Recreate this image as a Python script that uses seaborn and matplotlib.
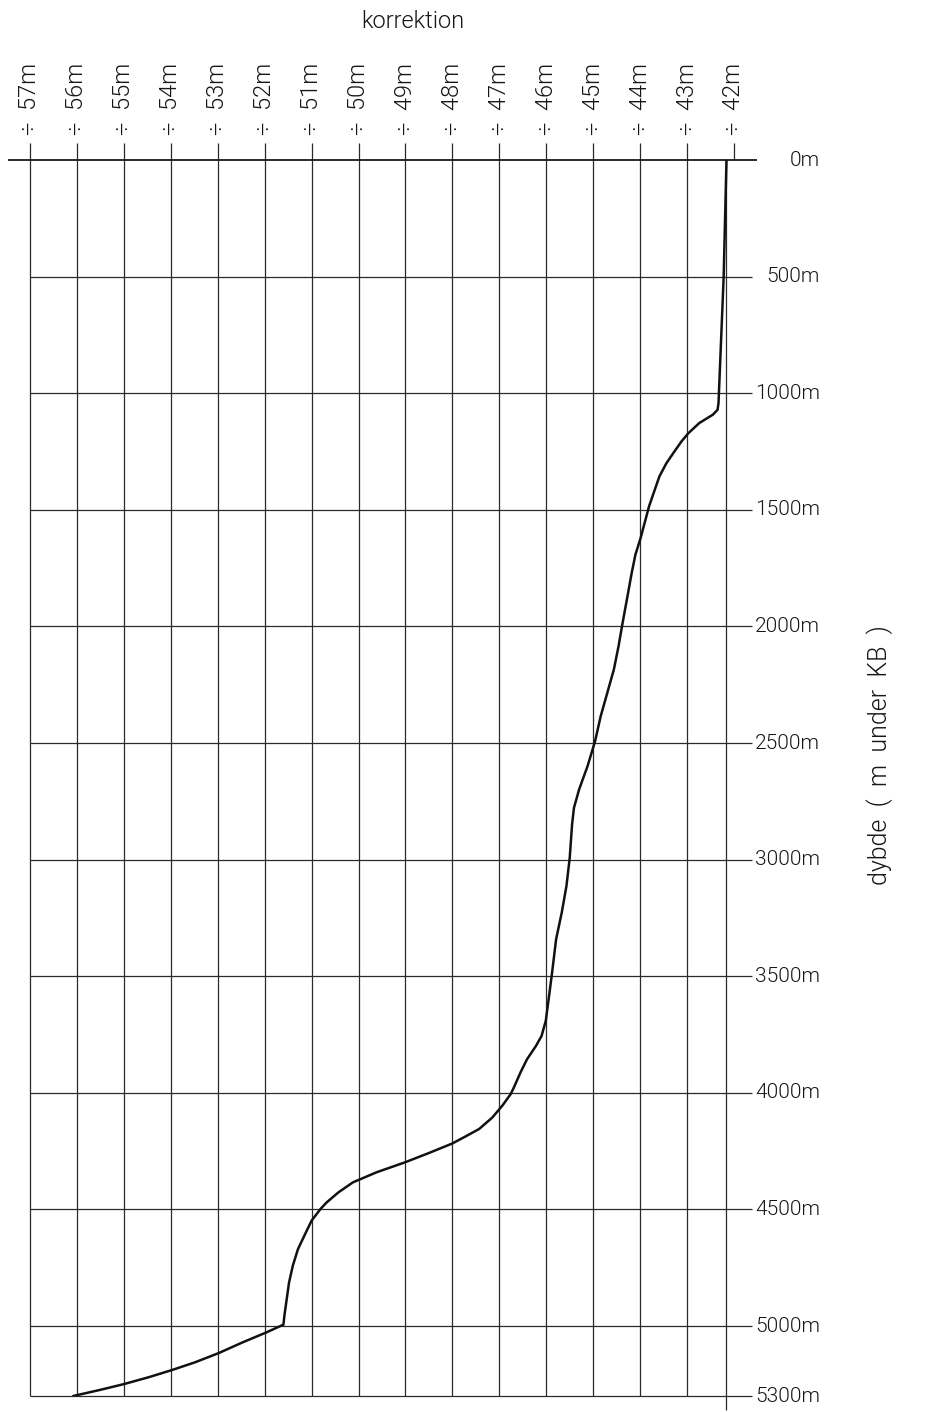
import numpy as np
import pandas as pd
import matplotlib
matplotlib.use("Agg")
import matplotlib.pyplot as plt
import seaborn as sns

# depth below KB (m) and correction (m)
depth = [0, 500, 993, 1042, 1071, 1092, 1128, 1171, 1207, 1250,
         1300, 1357, 1485, 1621, 1692, 1771, 1871, 1992, 2085, 2185,
         2285, 2385, 2492, 2599, 2699, 2778, 2849, 2992, 3113, 3227,
         3341, 3491, 3584, 3691, 3756, 3799, 3856, 3913, 3977, 4006,
         4056, 4106, 4155, 4187, 4217, 4258, 4298, 4341, 4384, 4427,
         4470, 4498, 4548, 4598, 4670, 4741, 4813, 4884, 4956, 4994,
         5027, 5070, 5116, 5156, 5189, 5220, 5249, 5273, 5300]
korr = [-42.16, -42.22, -42.32, -42.33, -42.35, -42.45, -42.74, -42.97, -43.12, -43.27,
        -43.44, -43.59, -43.81, -43.99, -44.10, -44.18, -44.27, -44.38, -44.46, -44.56,
        -44.70, -44.84, -44.96, -45.12, -45.30, -45.41, -45.45, -45.50, -45.57, -45.67,
        -45.79, -45.88, -45.94, -46.01, -46.10, -46.22, -46.41, -46.55, -46.69, -46.76,
        -46.94, -47.15, -47.43, -47.72, -48.00, -48.50, -49.01, -49.62, -50.12, -50.43,
        -50.68, -50.81, -51.00, -51.12, -51.29, -51.40, -51.48, -51.53, -51.58, -51.60,
        -51.96, -52.47, -52.98, -53.49, -53.98, -54.48, -55.00, -55.49, -56.08]

korr_ticks = list(range(-57, -41))
depth_ticks = [0, 500, 1000, 1500, 2000, 2500, 3000, 3500, 4000, 4500, 5000, 5300]

df = pd.DataFrame({"korrektion": korr, "dybde": depth})

sns.set_style("white")
plt.rcParams["font.family"] = ["Roboto", "DejaVu Sans"]

W, H = 927, 1412
fig = plt.figure(figsize=(W / 100, H / 100), dpi=100)
# plot area: x -57 -> px 30, x -42 -> px 734 ; depth 0 -> px 160, 5300 -> px 1396
ax = fig.add_axes([30 / W, (H - 1396) / H, 704 / W, 1236 / H])
ax.set_xlim(-57, -42)
ax.set_ylim(5300, 0)
ax.set_axis_off()

grid_kw = dict(color="#2a2a2a", linewidth=0.9, clip_on=False)
px = 4.284  # metres of depth per pixel

# vertical grid
ax.vlines(korr_ticks[:-1], 0, 5300, **grid_kw)
# depth axis line on the right
ax.vlines(-42.17, 0, 5300 + 14 * px, **grid_kw)
# top ticks
ax.vlines(korr_ticks, -17 * px, 0, **grid_kw)
# horizontal lines
ax.hlines(depth_ticks[1:], -57, -41.62, **grid_kw)
ax.hlines(0, -57.47, -41.5, color="#1a1a1a", linewidth=1.3, clip_on=False)

sns.lineplot(data=df, x="korrektion", y="dybde", sort=False, estimator=None,
             color="#111111", linewidth=1.8, ax=ax)
for ln in ax.lines:
    ln.set_solid_joinstyle("round")
    ln.set_solid_capstyle("round")
ax.set_axis_off()

for k in korr_ticks:
    ax.text(k, -25 * px, f"\u00f7  {abs(k)}m", rotation=90, ha="center", va="bottom",
            clip_on=False, fontsize=17, fontweight=300, color="#161616")
for d in depth_ticks:
    ax.text(-40.17, d, f"{d}m", ha="right", va="center", clip_on=False,
            fontsize=15, fontweight=300, color="#161616")

txt_kw = dict(fontsize=17, fontweight=300, color="#161616")
fig.text(413 / W, 1 - 22 / H, "korrektion", ha="center", va="center", **txt_kw)
fig.text(880 / W, 1 - 755 / H, "dybde  (  m  under  KB  )", rotation=90,
         ha="center", va="center", fontsize=18, fontweight=300, color="#161616")

fig.savefig("out.png", dpi=100, facecolor="white")
